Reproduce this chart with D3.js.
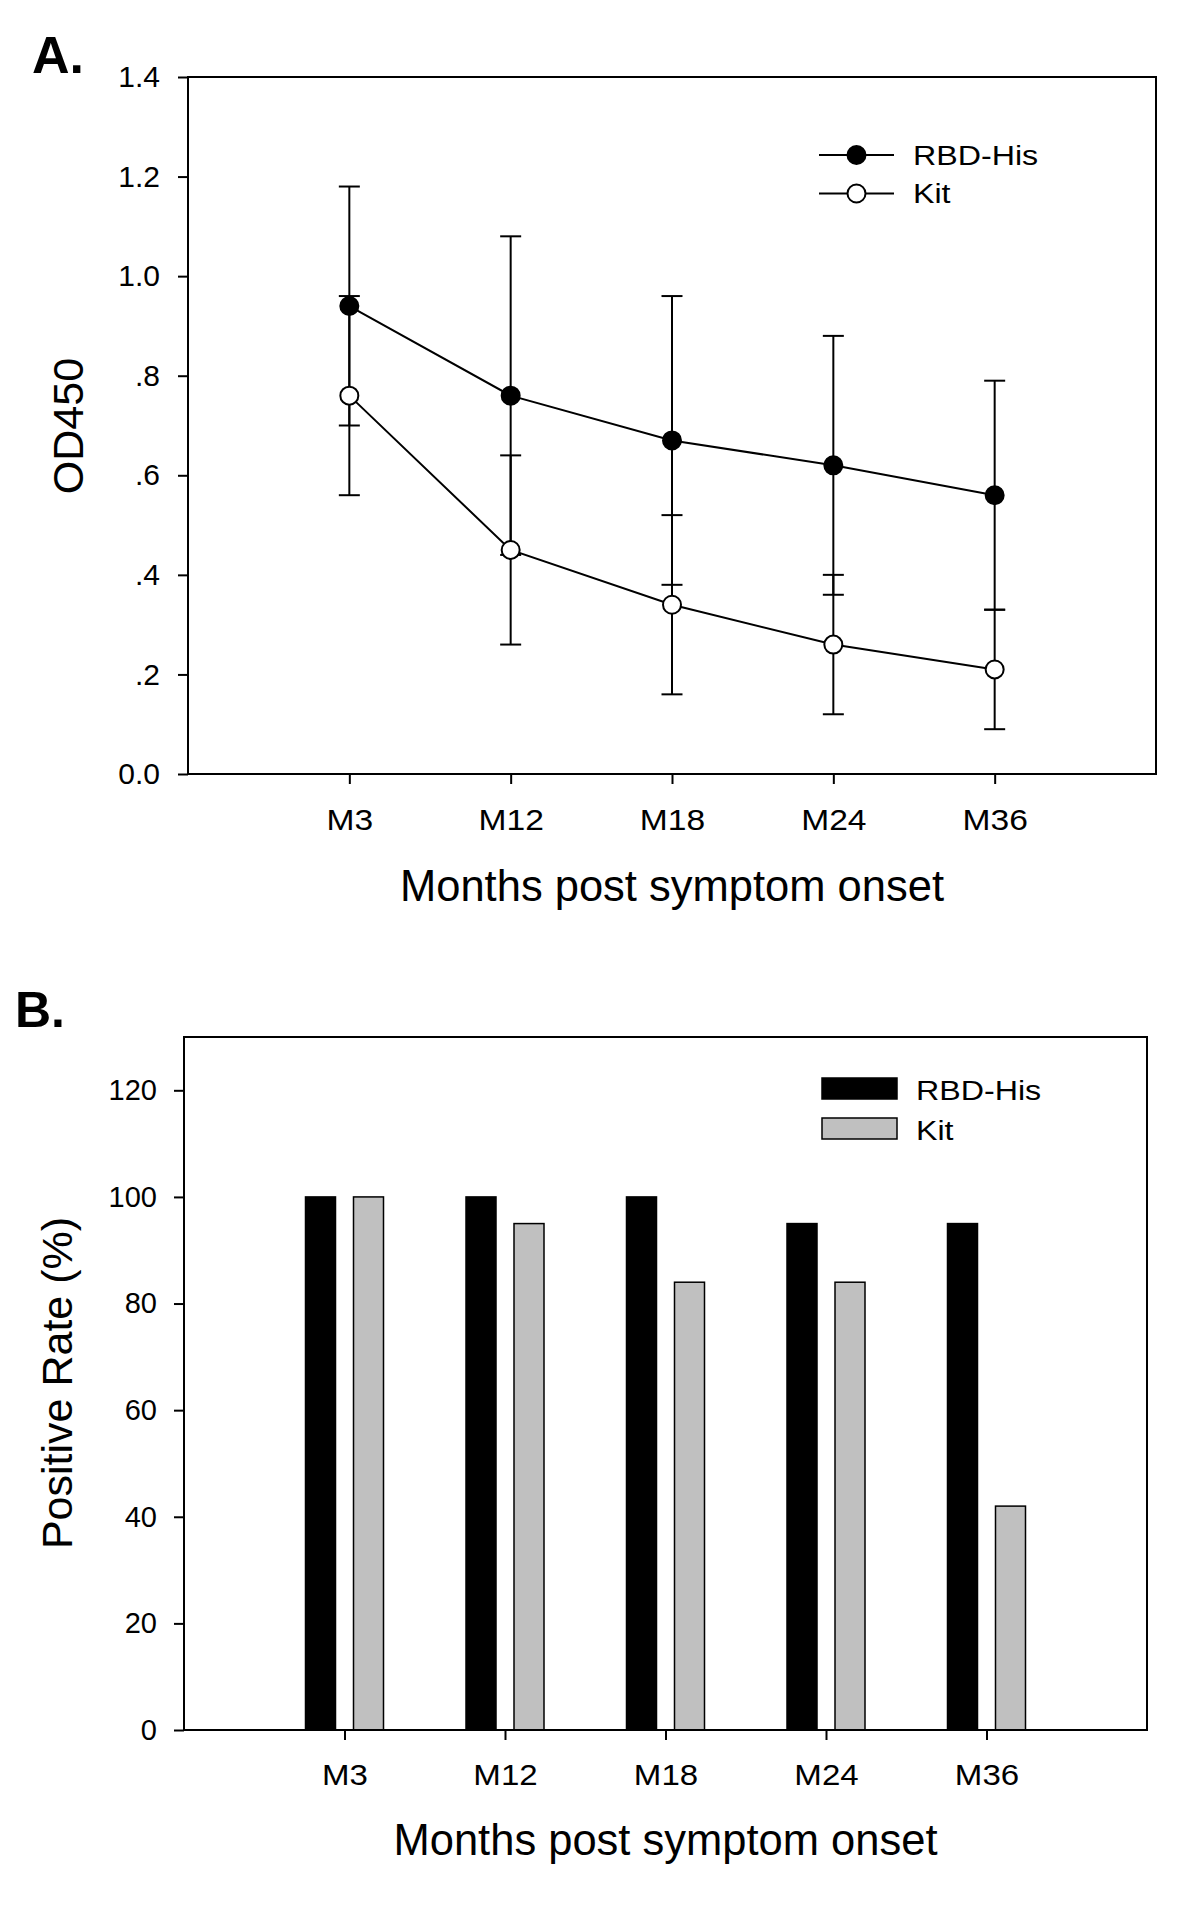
<!DOCTYPE html>
<html>
<head>
<meta charset="utf-8">
<script src="https://cdn.jsdelivr.net/npm/d3@7"></script>
<style>
  html, body { margin: 0; padding: 0; background: #fff; }
  svg { display: block; }
  text { font-family: "Liberation Sans", Arial, sans-serif; fill: #000; }
</style>
</head>
<body>
<svg id="chart" width="1200" height="1908"></svg>
<script>
// ---------- DATA ----------
const categories = ["M3", "M12", "M18", "M24", "M36"];
const seriesNames = ["RBD-His", "Kit"];

// Panel A: OD450 mean and error (SD) per time point
const rbdMean = [0.94, 0.76, 0.67, 0.62, 0.56];
const rbdErr  = [0.24, 0.32, 0.29, 0.26, 0.23];
const kitMean = [0.76, 0.45, 0.34, 0.26, 0.21];
const kitErr  = [0.20, 0.19, 0.18, 0.14, 0.12];
const odTicks = [0, 0.2, 0.4, 0.6, 0.8, 1.0, 1.2, 1.4];

// Panel B: positive rate (%)
const rbdRate = [100, 100, 100, 95, 95];
const kitRate = [100, 95, 84, 84, 42];
const rateTicks = [0, 20, 40, 60, 80, 100, 120];

// ---------- SETUP ----------
const svg = d3.select("#chart");
const FONT = "Liberation Sans, Arial, sans-serif";
const SX_TICK = 1.12;   // horizontal stretch of x tick labels
const SX_LEG = 1.15;    // horizontal stretch of legend text

function styleXTicks(axisG, size, yOff) {
  axisG.selectAll(".tick text")
    .attr("font-size", size).attr("font-family", FONT).attr("fill", "#000")
    .attr("x", null).attr("y", null).attr("dy", null)
    .attr("transform", `translate(0,${yOff}) scale(${SX_TICK},1)`);
}

// ================= PANEL A =================
const A = { left: 188, right: 1156, top: 77, bottom: 774 };
const xA = d3.scaleLinear().domain([0, categories.length + 1]).range([A.left, A.right]);
const yA = d3.scaleLinear().domain([0, 1.4]).range([A.bottom, A.top]);

const gA = svg.append("g");

gA.append("rect")
  .attr("x", A.left).attr("y", A.top)
  .attr("width", A.right - A.left).attr("height", A.bottom - A.top)
  .attr("fill", "none").attr("stroke", "#000").attr("stroke-width", 2);

const fmtOD = v => v === 0 ? "0.0" : (v < 1 ? d3.format(".1f")(v).replace(/^0/, "") : d3.format(".1f")(v));
const yAxisA = gA.append("g").attr("transform", `translate(${A.left},0)`)
  .call(d3.axisLeft(yA).tickValues(odTicks).tickFormat(fmtOD).tickSize(10).tickPadding(18));
yAxisA.select(".domain").remove();
yAxisA.selectAll(".tick line").attr("stroke", "#000").attr("stroke-width", 2);
yAxisA.selectAll(".tick text").attr("font-size", 30).attr("font-family", FONT).attr("fill", "#000");

const xAxisA = gA.append("g").attr("transform", `translate(0,${A.bottom})`)
  .call(d3.axisBottom(xA).tickValues(d3.range(1, categories.length + 1))
    .tickFormat(i => categories[i - 1]).tickSize(10));
xAxisA.select(".domain").remove();
xAxisA.selectAll(".tick line").attr("stroke", "#000").attr("stroke-width", 2);
styleXTicks(xAxisA, 30, 56);

gA.append("text").attr("x", (A.left + A.right) / 2).attr("y", 901)
  .attr("text-anchor", "middle").attr("font-size", 43.5).text("Months post symptom onset");
gA.append("text").attr("transform", "translate(83,426) rotate(-90)")
  .attr("text-anchor", "middle").attr("font-size", 43).text("OD450");
gA.append("text").attr("x", 32).attr("y", 73).attr("font-size", 52).attr("font-weight", "bold").text("A.");

const seriesA = [
  { name: seriesNames[0], mean: rbdMean, err: rbdErr, fill: "#000" },
  { name: seriesNames[1], mean: kitMean, err: kitErr, fill: "#fff" }
];

const line = d3.line().x((d, i) => xA(i + 1)).y(d => yA(d));
const capW = 10.5;

seriesA.forEach(s => {
  gA.append("path").datum(s.mean).attr("d", line)
    .attr("fill", "none").attr("stroke", "#000").attr("stroke-width", 2);
});
seriesA.forEach(s => {
  const eg = gA.append("g");
  s.mean.forEach((m, i) => {
    const x = xA(i + 1), y1 = yA(m + s.err[i]), y0 = yA(m - s.err[i]);
    eg.append("line").attr("x1", x).attr("x2", x).attr("y1", y1).attr("y2", y0)
      .attr("stroke", "#000").attr("stroke-width", 2);
    [y1, y0].forEach(y => eg.append("line").attr("x1", x - capW).attr("x2", x + capW)
      .attr("y1", y).attr("y2", y).attr("stroke", "#000").attr("stroke-width", 2));
  });
});
seriesA.forEach(s => {
  gA.append("g").selectAll("circle").data(s.mean).join("circle")
    .attr("cx", (d, i) => xA(i + 1)).attr("cy", d => yA(d)).attr("r", 9)
    .attr("fill", s.fill).attr("stroke", "#000").attr("stroke-width", 2);
});

// legend A
const legA = gA.append("g");
seriesA.forEach((s, i) => {
  const y = 155 + i * 38.5;
  legA.append("line").attr("x1", 819).attr("x2", 894).attr("y1", y).attr("y2", y)
    .attr("stroke", "#000").attr("stroke-width", 2);
  legA.append("circle").attr("cx", 856.5).attr("cy", y).attr("r", 9)
    .attr("fill", s.fill).attr("stroke", "#000").attr("stroke-width", 2);
  legA.append("text").attr("transform", `translate(913,${y + 9.5}) scale(${SX_LEG},1)`)
    .attr("font-size", 28).text(s.name);
});

// ================= PANEL B =================
const B = { left: 184, right: 1147, top: 1037, bottom: 1730 };
const xB = d3.scaleLinear().domain([0, categories.length + 1]).range([B.left, B.right]);
const yB = d3.scaleLinear().domain([0, 130]).range([B.bottom, B.top]);
const xSub = d3.scaleBand().domain(seriesNames).range([-39, 39]).paddingInner(0.375).paddingOuter(0);

const gB = svg.append("g");

gB.append("rect")
  .attr("x", B.left).attr("y", B.top)
  .attr("width", B.right - B.left).attr("height", B.bottom - B.top)
  .attr("fill", "none").attr("stroke", "#000").attr("stroke-width", 2);

const seriesB = [
  { name: seriesNames[0], vals: rbdRate, fill: "#000" },
  { name: seriesNames[1], vals: kitRate, fill: "#c0c0c0" }
];

seriesB.forEach(s => {
  gB.append("g").selectAll("rect").data(s.vals).join("rect")
    .attr("x", (d, i) => xB(i + 1) + xSub(s.name))
    .attr("width", xSub.bandwidth())
    .attr("y", d => yB(d))
    .attr("height", d => yB(0) - yB(d))
    .attr("fill", s.fill).attr("stroke", "#000").attr("stroke-width", 1.5);
});

const yAxisB = gB.append("g").attr("transform", `translate(${B.left},0)`)
  .call(d3.axisLeft(yB).tickValues(rateTicks).tickFormat(d3.format("d")).tickSize(10).tickPadding(17));
yAxisB.select(".domain").remove();
yAxisB.selectAll(".tick line").attr("stroke", "#000").attr("stroke-width", 2);
yAxisB.selectAll(".tick text").attr("font-size", 29).attr("font-family", FONT).attr("fill", "#000");

const xAxisB = gB.append("g").attr("transform", `translate(0,${B.bottom})`)
  .call(d3.axisBottom(xB).tickValues(d3.range(1, categories.length + 1))
    .tickFormat(i => categories[i - 1]).tickSize(10));
xAxisB.select(".domain").remove();
xAxisB.selectAll(".tick line").attr("stroke", "#000").attr("stroke-width", 2);
styleXTicks(xAxisB, 29.5, 55);

gB.append("line").attr("x1", B.left).attr("x2", B.right).attr("y1", B.bottom).attr("y2", B.bottom)
  .attr("stroke", "#000").attr("stroke-width", 2);

gB.append("text").attr("x", (B.left + B.right) / 2).attr("y", 1855)
  .attr("text-anchor", "middle").attr("font-size", 43.5).text("Months post symptom onset");
gB.append("text").attr("transform", "translate(72,1383) rotate(-90)")
  .attr("text-anchor", "middle").attr("font-size", 43).text("Positive Rate (%)");
gB.append("text").attr("x", 15).attr("y", 1027).attr("font-size", 50).attr("font-weight", "bold").text("B.");

// legend B
const legB = gB.append("g");
seriesB.forEach((s, i) => {
  const y = 1078 + i * 40;
  legB.append("rect").attr("x", 822).attr("y", y).attr("width", 75).attr("height", 21)
    .attr("fill", s.fill).attr("stroke", "#000").attr("stroke-width", 1.5);
  legB.append("text").attr("transform", `translate(916,${y + 22}) scale(${SX_LEG},1)`)
    .attr("font-size", 28).text(s.name);
});
</script>
</body>
</html>
